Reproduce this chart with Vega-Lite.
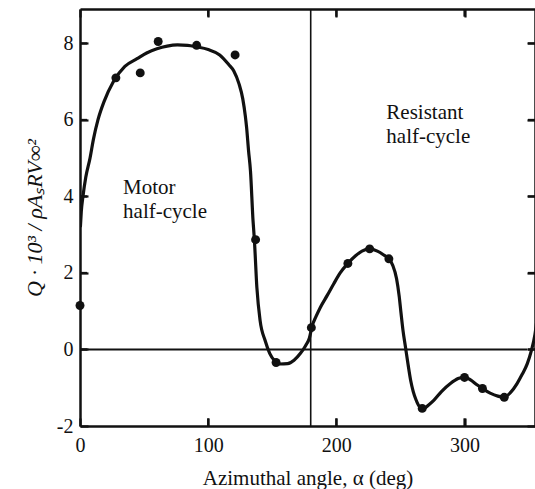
{
  "$schema": "https://vega.github.io/schema/vega-lite/v6.json",
  "width": 455,
  "height": 417,
  "autosize": "none",
  "padding": {"left": 80, "top": 9, "right": 0, "bottom": 63},
  "config": {
    "view": {"stroke": null},
    "font": "Liberation Serif",
    "axis": {
      "domainColor": "#111",
      "domainWidth": 2.5,
      "tickColor": "#111",
      "tickWidth": 2.2,
      "tickSize": -8,
      "labelColor": "#111",
      "labelFontSize": 20,
      "labelFlush": false,
      "titleColor": "#111",
      "titleFontSize": 21,
      "titleFontWeight": "normal",
      "grid": false
    }
  },
  "datasets": {
    "points": [
      {"angle": 0, "q": 1.15},
      {"angle": 28, "q": 7.1},
      {"angle": 47, "q": 7.23},
      {"angle": 61, "q": 8.05},
      {"angle": 91, "q": 7.95},
      {"angle": 121, "q": 7.7},
      {"angle": 137, "q": 2.87},
      {"angle": 153, "q": -0.34},
      {"angle": 180.5, "q": 0.57},
      {"angle": 209, "q": 2.25},
      {"angle": 226, "q": 2.63},
      {"angle": 241, "q": 2.37},
      {"angle": 267, "q": -1.54},
      {"angle": 300, "q": -0.73},
      {"angle": 314, "q": -1.02},
      {"angle": 331, "q": -1.25}
    ],
    "curve": [
      {"angle": 0.3, "q": 3.2}, {"angle": 1, "q": 3.6}, {"angle": 2.3, "q": 4.0},
      {"angle": 4.5, "q": 4.5}, {"angle": 7.8, "q": 5.0}, {"angle": 10.5, "q": 5.5},
      {"angle": 14, "q": 6.0}, {"angle": 19, "q": 6.5}, {"angle": 26, "q": 7.0},
      {"angle": 35, "q": 7.4}, {"angle": 44.5, "q": 7.6}, {"angle": 52, "q": 7.75},
      {"angle": 60, "q": 7.86}, {"angle": 68, "q": 7.93}, {"angle": 76, "q": 7.96},
      {"angle": 84, "q": 7.95}, {"angle": 91, "q": 7.91}, {"angle": 100, "q": 7.84},
      {"angle": 109, "q": 7.7}, {"angle": 116, "q": 7.45}, {"angle": 120, "q": 7.28},
      {"angle": 124, "q": 6.95}, {"angle": 127, "q": 6.55}, {"angle": 129, "q": 6.1},
      {"angle": 130, "q": 5.8}, {"angle": 131.5, "q": 5.2}, {"angle": 133, "q": 4.67},
      {"angle": 135, "q": 3.37}, {"angle": 136, "q": 2.9}, {"angle": 138, "q": 1.62},
      {"angle": 140.5, "q": 0.76}, {"angle": 144.5, "q": 0.23}, {"angle": 148, "q": -0.1},
      {"angle": 152, "q": -0.3}, {"angle": 156, "q": -0.38}, {"angle": 162, "q": -0.37},
      {"angle": 167, "q": -0.28}, {"angle": 172, "q": -0.1}, {"angle": 176, "q": 0.1},
      {"angle": 179, "q": 0.3}, {"angle": 181, "q": 0.6}, {"angle": 184, "q": 0.85},
      {"angle": 187.5, "q": 1.1}, {"angle": 193, "q": 1.42}, {"angle": 198, "q": 1.72},
      {"angle": 203, "q": 2.0}, {"angle": 209, "q": 2.25}, {"angle": 215, "q": 2.45},
      {"angle": 220, "q": 2.57}, {"angle": 226, "q": 2.63}, {"angle": 232, "q": 2.57},
      {"angle": 237, "q": 2.47}, {"angle": 241, "q": 2.37}, {"angle": 244, "q": 2.2},
      {"angle": 247, "q": 1.85}, {"angle": 249, "q": 1.4}, {"angle": 250.5, "q": 0.94},
      {"angle": 252, "q": 0.5}, {"angle": 254, "q": 0.05}, {"angle": 256, "q": -0.4},
      {"angle": 258, "q": -0.81}, {"angle": 260, "q": -1.1}, {"angle": 262, "q": -1.3},
      {"angle": 265, "q": -1.5}, {"angle": 268, "q": -1.55}, {"angle": 272, "q": -1.45},
      {"angle": 276, "q": -1.33}, {"angle": 282, "q": -1.1}, {"angle": 289, "q": -0.89},
      {"angle": 295, "q": -0.76}, {"angle": 300, "q": -0.72}, {"angle": 305, "q": -0.8},
      {"angle": 310, "q": -0.93}, {"angle": 314, "q": -1.02}, {"angle": 320, "q": -1.14},
      {"angle": 326, "q": -1.22}, {"angle": 331, "q": -1.25}, {"angle": 336, "q": -1.12},
      {"angle": 341, "q": -0.89}, {"angle": 345, "q": -0.65}, {"angle": 349, "q": -0.37},
      {"angle": 352, "q": -0.05}, {"angle": 355, "q": 0.4}, {"angle": 357, "q": 0.9}
    ],
    "labels": [
      {"angle": 33.6, "q": 4.07, "label": "Motor\nhalf-cycle"},
      {"angle": 239, "q": 6.03, "label": "Resistant\nhalf-cycle"}
    ],
    "xticks": [{"angle": 100}, {"angle": 200}, {"angle": 300}],
    "yticks": [{"q": 0}, {"q": 2}, {"q": 4}, {"q": 6}, {"q": 8}]
  },
  "resolve": {"axis": {"x": "independent", "y": "independent"}},
  "layer": [
    {
      "data": {"values": [{}]},
      "mark": {"type": "rule", "color": "#111", "strokeWidth": 1.6},
      "encoding": {
        "x": {"datum": 180, "type": "quantitative", "axis": null}
      }
    },
    {
      "data": {"values": [{}]},
      "mark": {"type": "rule", "color": "#111", "strokeWidth": 2.2},
      "encoding": {
        "x": {"datum": 0, "type": "quantitative", "axis": null},
        "x2": {"datum": 349},
        "y": {"datum": 0, "type": "quantitative", "axis": null}
      }
    },
    {
      "data": {"name": "xticks"},
      "mark": {"type": "rule", "color": "#111", "strokeWidth": 2.2},
      "encoding": {
        "x": {"field": "angle", "type": "quantitative", "axis": null},
        "y": {"datum": -2, "type": "quantitative", "axis": null},
        "y2": {"datum": -1.8}
      }
    },
    {
      "data": {"name": "xticks"},
      "mark": {"type": "rule", "color": "#111", "strokeWidth": 2.2},
      "encoding": {
        "x": {"field": "angle", "type": "quantitative", "axis": null},
        "y": {"datum": 8.9, "type": "quantitative", "axis": null},
        "y2": {"datum": 8.7}
      }
    },
    {
      "data": {"name": "yticks"},
      "mark": {"type": "rule", "color": "#111", "strokeWidth": 2.2},
      "encoding": {
        "y": {"field": "q", "type": "quantitative", "axis": null},
        "x": {"datum": 0, "type": "quantitative", "axis": null},
        "x2": {"datum": 5.5}
      }
    },
    {
      "data": {"name": "yticks"},
      "mark": {"type": "rule", "color": "#111", "strokeWidth": 2.2},
      "encoding": {
        "y": {"field": "q", "type": "quantitative", "axis": null},
        "x": {"datum": 355, "type": "quantitative", "axis": null},
        "x2": {"datum": 349.5}
      }
    },
    {
      "data": {"name": "curve"},
      "mark": {"type": "line", "color": "#111", "strokeWidth": 3.2, "interpolate": "monotone", "clip": true},
      "encoding": {
        "x": {"field": "angle", "type": "quantitative", "scale": {"domain": [0, 355], "nice": false, "zero": false},
              "axis": {"orient": "top", "values": [0, 100, 200, 300], "labels": false, "title": null}},
        "y": {"field": "q", "type": "quantitative", "scale": {"domain": [-2, 8.9], "nice": false, "zero": false},
              "axis": {"orient": "right", "values": [-2, 0, 2, 4, 6, 8], "labels": false, "title": null}}
      }
    },
    {
      "data": {"name": "points"},
      "mark": {"type": "point", "filled": true, "color": "#111", "size": 80, "opacity": 1},
      "encoding": {
        "x": {"field": "angle", "type": "quantitative",
              "axis": {"orient": "bottom", "values": [0, 100, 200, 300], "title": "Azimuthal angle, α (deg)", "labelPadding": 17, "titlePadding": 12}},
        "y": {"field": "q", "type": "quantitative",
              "axis": {"orient": "left", "values": [-2, 0, 2, 4, 6, 8], "title": "Q · 10³ / ρAₛRV∞²", "titleFontStyle": "italic", "titleFontSize": 22, "labelPadding": 15, "titlePadding": 10, "labelExpr": "replace(datum.label, '−', '-')"}}
      }
    },
    {
      "data": {"name": "labels"},
      "mark": {"type": "text", "align": "left", "baseline": "alphabetic", "fontSize": 21, "lineHeight": 24, "lineBreak": "\n", "color": "#111"},
      "encoding": {
        "x": {"field": "angle", "type": "quantitative", "axis": null},
        "y": {"field": "q", "type": "quantitative", "axis": null},
        "text": {"field": "label"}
      }
    }
  ]
}
